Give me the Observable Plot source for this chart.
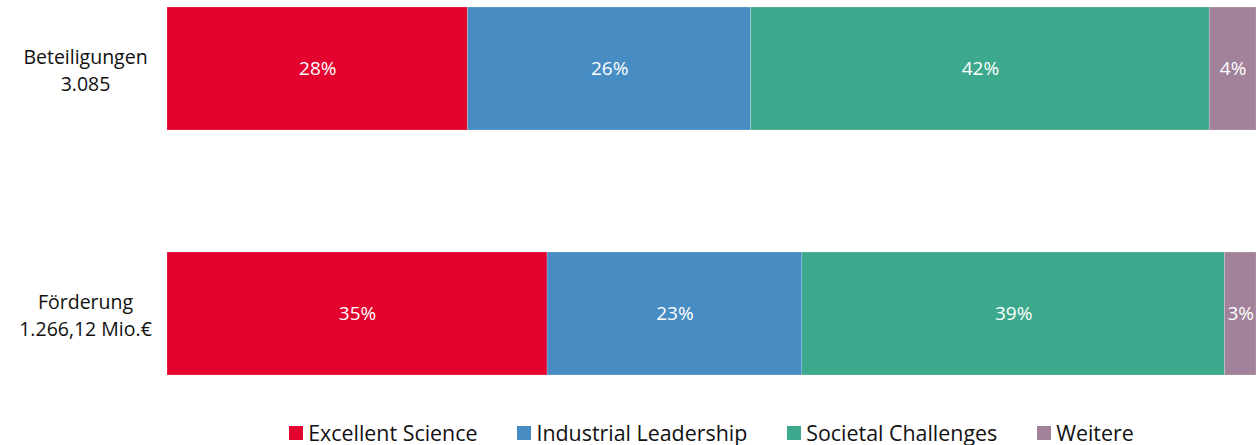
<!DOCTYPE html>
<html>
<head>
<meta charset="utf-8">
<script src="https://cdn.jsdelivr.net/npm/d3@7"></script>
<script src="https://cdn.jsdelivr.net/npm/@observablehq/plot@0.6"></script>
<style>
  html, body { margin: 0; padding: 0; background: #fff; }
  body { width: 1259px; height: 445px; overflow: hidden; font-family: "Open Sans", sans-serif; }
  #legend { display: flex; justify-content: center; align-items: center; height: 35px; margin-top: 5px; padding-left: 167px; padding-right: 3px; font-size: 21.4px; color: #111; }
  #legend .item { display: flex; align-items: center; margin: 0 20px; }
  #legend .sw { width: 14px; height: 14px; margin-right: 5px; }
</style>
</head>
<body>
<div id="chart"></div>
<div id="legend"></div>
<script>
const categories = ["Beteiligungen\n3.085", "Förderung\n1.266,12 Mio.€"];
const series = ["Excellent Science", "Industrial Leadership", "Societal Challenges", "Weitere"];
const beteiligungen = [27.6, 26.0, 42.1, 4.3];
const foerderung = [34.9, 23.4, 38.8, 2.9];
const colors = ["#E4032E", "#478CC3", "#3DA98C", "#A2819A"];

const rows = [];
[beteiligungen, foerderung].forEach((vals, i) => {
  vals.forEach((v, j) => rows.push({cat: categories[i], series: series[j], value: v}));
});

const plot = Plot.plot({
  width: 1259,
  height: 410,
  marginLeft: 167,
  marginRight: 3,
  marginTop: 7,
  marginBottom: 35,
  style: {fontFamily: "'Open Sans', sans-serif", fontSize: "18px"},
  x: {domain: [0, 100], axis: null},
  y: {domain: categories, axis: null, paddingInner: 0.5, paddingOuter: 0},
  color: {domain: series, range: colors},
  marks: [
    Plot.barX(rows, Plot.stackX({x: "value", y: "cat", fill: "series", stroke: "#fff", strokeWidth: 0.5, strokeOpacity: 0.4})),
    Plot.text(rows, Plot.stackX({x: "value", y: "cat", text: d => Math.round(d.value) + "%", fill: "white", fontSize: 19})),
    Plot.text(categories, {y: d => d, text: d => d, frameAnchor: "left", dx: -82, textAnchor: "middle", fill: "#111", fontSize: 19.5, lineHeight: 1.35})
  ]
});
document.getElementById("chart").appendChild(plot);

const legend = document.getElementById("legend");
series.forEach((s, i) => {
  const item = document.createElement("div");
  item.className = "item";
  const sw = document.createElement("div");
  sw.className = "sw";
  sw.style.background = colors[i];
  const t = document.createElement("span");
  t.textContent = s;
  item.appendChild(sw);
  item.appendChild(t);
  legend.appendChild(item);
});
</script>
</body>
</html>
